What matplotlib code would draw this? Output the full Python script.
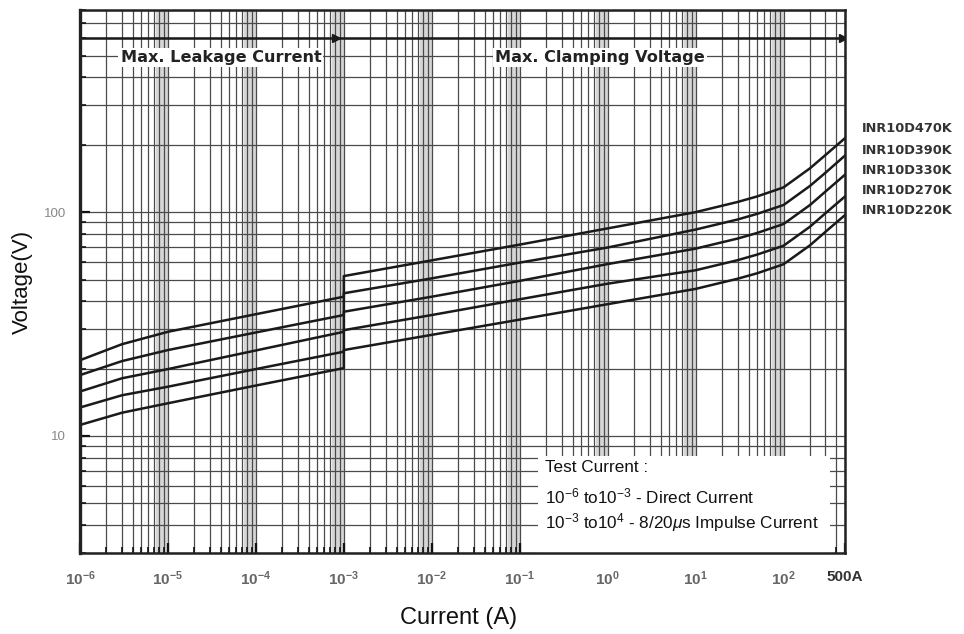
import numpy as np
import matplotlib
matplotlib.use("Agg")
import matplotlib.pyplot as plt
from matplotlib.ticker import FixedLocator, NullFormatter
from matplotlib.patches import Rectangle

plt.rcParams['mathtext.fontset'] = 'custom'
plt.rcParams['mathtext.rm'] = 'Liberation Sans'
plt.rcParams['mathtext.it'] = 'Liberation Sans:italic'
plt.rcParams['mathtext.bf'] = 'Liberation Sans:bold'

# ---- data ----
current_dc = [1e-6, 3e-6, 1e-5, 1e-4, 1e-3]
current_imp = [1e-3, 1e-2, 1e-1, 1, 10, 30, 50, 100, 200, 300, 500]

series_names = ["INR10D470K", "INR10D390K", "INR10D330K", "INR10D270K", "INR10D220K"]

v470_dc = [21.8, 25.7, 29.2, 35.0, 41.9]
v470_imp = [51.8, 60.9, 71.6, 84.6, 100, 111, 117.5, 129, 157, 180, 214]
v390_dc = [18.7, 21.6, 24.2, 29.0, 34.7]
v390_imp = [43.4, 50.6, 59.5, 69.5, 83.6, 92.7, 98.2, 107.6, 131, 150, 179]
v330_dc = [15.8, 18.1, 19.9, 24.1, 29.2]
v330_imp = [35.9, 41.9, 49.3, 58.6, 68.7, 76.2, 80.7, 88.5, 107.6, 123.6, 147]
v270_dc = [13.4, 15.2, 16.6, 19.9, 23.8]
v270_imp = [29.7, 34.7, 40.8, 47.9, 55, 61, 64.6, 70.8, 86.1, 98.9, 117.5]
v220_dc = [11.2, 12.7, 14.0, 16.8, 20.1]
v220_imp = [24.2, 28.3, 33.1, 38.8, 45.4, 50.4, 53.3, 58.5, 71.1, 81.7, 97]

x_tick_vals = [1e-6, 1e-5, 1e-4, 1e-3, 1e-2, 1e-1, 1, 10, 100, 500]
x_tick_labels = [r"$\mathbf{10^{-6}}$", r"$\mathbf{10^{-5}}$", r"$\mathbf{10^{-4}}$",
                 r"$\mathbf{10^{-3}}$", r"$\mathbf{10^{-2}}$", r"$\mathbf{10^{-1}}$",
                 r"$\mathbf{10^{0}}$", r"$\mathbf{10^{1}}$", r"$\mathbf{10^{2}}$", "500A"]
y_tick_vals = [10, 100]
y_tick_labels = ["10", "100"]

# ---- figure ----
fig = plt.figure(figsize=(9.64, 6.34), dpi=100)
W, H = 964, 634
L, R, T, B = 80, 845, 10, 553
ax = fig.add_axes([L / W, 1 - B / H, (R - L) / W, (B - T) / H])
ax.set_xscale("log")
ax.set_yscale("log")
ax.set_xlim(1e-6, 500)
ax.set_ylim(3, 800)

# grey bands of dense grid lines near the end of every decade
for d in range(-6, 3):
    ax.axvspan(7.3 * 10.0 ** d, 10.3 * 10.0 ** d, color="#d6d6d6", lw=0, zorder=0)

# grid
xminor = [m * 10.0 ** d for d in range(-6, 3) for m in range(2, 10) if m * 10.0 ** d <= 500]
yminor = [m * 10.0 ** d for d in range(0, 3) for m in range(2, 10) if 3 <= m * 10.0 ** d <= 800]
for xv in xminor + x_tick_vals[:-1]:
    ax.axvline(xv, color="#4a4a4a", lw=0.9, zorder=1)
for yv in yminor + y_tick_vals:
    ax.axhline(yv, color="#4a4a4a", lw=0.9, zorder=1)

# curves
dc_list = [v470_dc, v390_dc, v330_dc, v270_dc, v220_dc]
imp_list = [v470_imp, v390_imp, v330_imp, v270_imp, v220_imp]
for vdc, vimp in zip(dc_list, imp_list):
    ax.plot(current_dc + current_imp, vdc + vimp, color="#1a1a1a", lw=1.8, zorder=4,
            solid_joinstyle="round")

# top arrow line
ax.plot([1e-6, 500], [600, 600], color="#1a1a1a", lw=1.8, zorder=4)
ax.plot([8.2e-4, 470], [600, 600], marker=">", ls="none", ms=6, color="#1a1a1a", zorder=5)

bbox_w = dict(facecolor="white", edgecolor="none", pad=1.5)
ax.text(4.0e-5, 492, "Max. Leakage Current", ha="center", va="center", fontsize=11.6,
        fontweight="bold", family="DejaVu Sans", color="#222", bbox=bbox_w, zorder=6)
ax.text(0.81, 492, "Max. Clamping Voltage", ha="center", va="center", fontsize=11.6,
        fontweight="bold", family="DejaVu Sans", color="#222", bbox=bbox_w, zorder=6)

# test current box
bx0 = (538 - L) / (R - L)
bx1 = (830 - L) / (R - L)
by1 = (B - 456) / (B - T)
ax.add_patch(Rectangle((bx0, 0), bx1 - bx0, by1, transform=ax.transAxes,
                       facecolor="white", edgecolor="none", zorder=6))
tx = (545 - L) / (R - L)
box_lines = ["Test Current :",
             r"10$^{-6}$ to10$^{-3}$ - Direct Current",
             r"10$^{-3}$ to10$^{4}$ - 8/20$\mathit{\mu}$s Impulse Current"]
for line, py in zip(box_lines, [468, 496, 523]):
    ax.text(tx, (B - py) / (B - T), line, transform=ax.transAxes, ha="left", va="center",
            fontsize=12.3, family="Liberation Sans", color="#111", zorder=7)

# ticks
ax.xaxis.set_major_locator(FixedLocator(x_tick_vals))
ax.xaxis.set_minor_locator(FixedLocator(xminor))
ax.yaxis.set_major_locator(FixedLocator(y_tick_vals))
ax.yaxis.set_minor_locator(FixedLocator(yminor))
ax.xaxis.set_minor_formatter(NullFormatter())
ax.yaxis.set_minor_formatter(NullFormatter())
ax.set_xticklabels(x_tick_labels)
ax.set_yticklabels(y_tick_labels)
ax.tick_params(axis="both", which="major", direction="in", length=7, width=1.6, color="#111")
ax.tick_params(axis="both", which="minor", direction="in", length=4, width=1.2, color="#111")
ax.tick_params(axis="x", which="major", pad=12, labelsize=11, labelcolor="#666")
ax.tick_params(axis="y", which="major", pad=10, labelsize=9.5, labelcolor="#888")
for lab in ax.get_xticklabels():
    lab.set_family("Liberation Sans")
ax.get_xticklabels()[-1].set_color("#333")
ax.get_xticklabels()[-1].set_fontweight("bold")
for lab in ax.get_yticklabels():
    lab.set_family("Liberation Sans")

for s in ax.spines.values():
    s.set_linewidth(1.8)
    s.set_color("#222")
    s.set_zorder(8)
ax.spines["left"].set_linewidth(2.4)
ax.set_axisbelow(False)

# series labels on the right
for name, py in zip(series_names, [128, 150, 171, 191, 211]):
    fig.text(862 / W, 1 - py / H, name, ha="left", va="center", fontsize=9.3,
             fontweight="bold", family="DejaVu Sans", color="#333")

fig.text(22 / W, 1 - 282 / H, "Voltage(V)", rotation=90, ha="center", va="center",
         fontsize=16, family="Liberation Sans", color="#111")
fig.text(459 / W, 1 - 618 / H, "Current (A)", ha="center", va="center",
         fontsize=17, family="Liberation Sans", color="#111")

fig.savefig("out.png", dpi=100)
